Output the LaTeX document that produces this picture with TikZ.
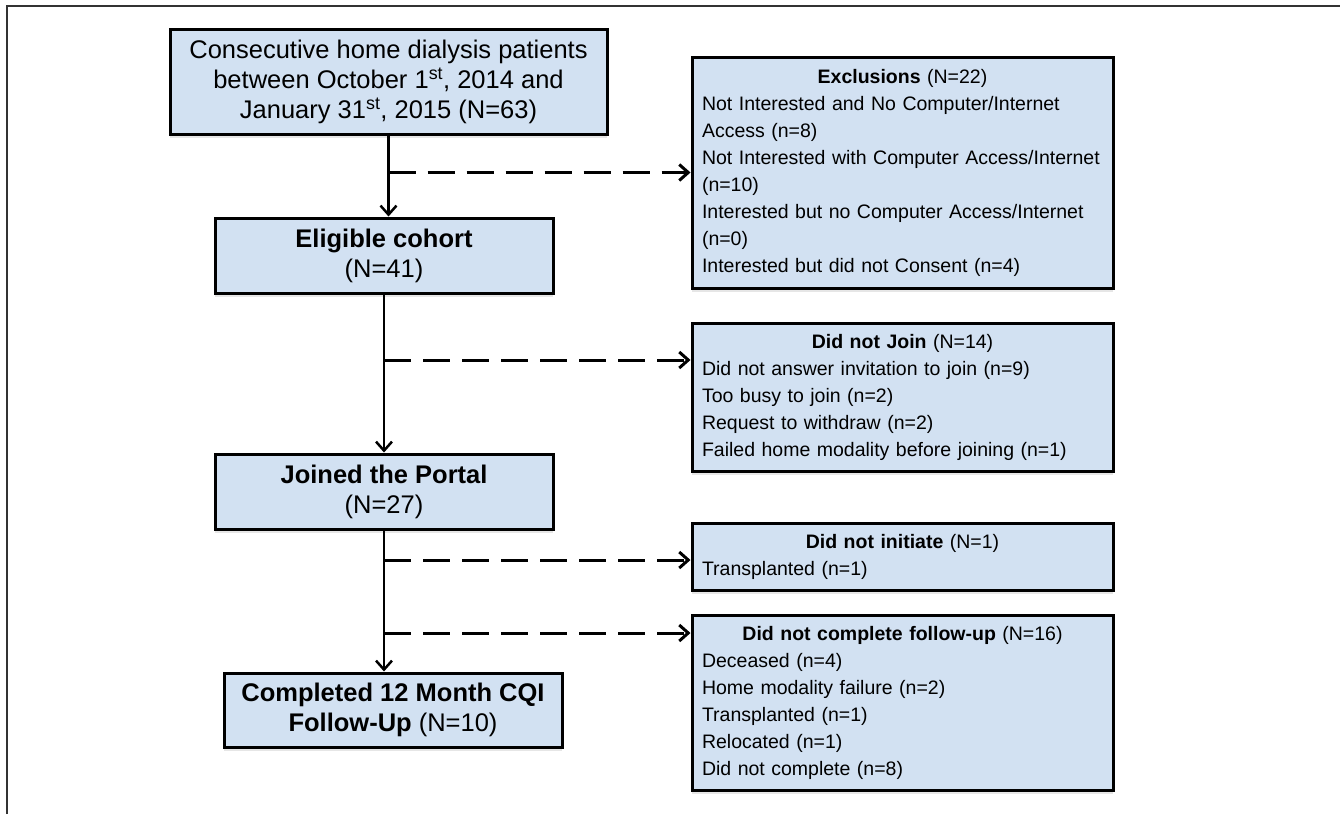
\documentclass[tikz,border=0pt]{standalone}
\usepackage{fontspec}
\setmainfont{Liberation Sans}
\usetikzlibrary{arrows.meta,shadows}
\definecolor{boxblue}{RGB}{210,225,242}
\newcommand\boxhead[2]{\makebox[\hsize]{\textbf{#1} #2}}
\tikzset{
  flowbox/.style={draw, line width=3pt, fill=boxblue, align=center,
    minimum width=338pt, minimum height=75pt, inner sep=0pt,
    font=\fontsize{25.5}{30}\selectfont,
    drop shadow={shadow xshift=0pt, shadow yshift=-4pt, opacity=0.2}},
  sidebox/.style={draw, line width=3pt, fill=boxblue, align=left,
    text width=401pt, inner xsep=10pt, inner ysep=0pt,
    font=\fontsize{19.5}{27}\selectfont,
    drop shadow={shadow xshift=0pt, shadow yshift=-4pt, opacity=0.2}},
  mainline/.style={line width=2.5pt},
  sideline/.style={line width=3pt, dash pattern=on 27pt off 12pt},
}
\begin{document}
\begin{tikzpicture}[x=1pt, y=-1pt, ->, >={Straight Barb[length=9pt,width=16pt]}]
  \useasboundingbox (0,0) rectangle (1340,814);
  \draw[-, line width=2pt, black!80] (7,814) -- (7,6) -- (1340,6);

  \node[flowbox, minimum width=437pt, minimum height=105pt] (P_all) at (388.5,81.5) {Consecutive home dialysis patients\\between October 1\textsuperscript{st}, 2014 and\\January 31\textsuperscript{st}, 2015 (N=63)};
  \node[flowbox] (P_elig) at (384,255.5) {\textbf{Eligible cohort}\\(N=41)};
  \node[flowbox] (P_join) at (384,491.5) {\textbf{Joined the Portal}\\(N=27)};
  \node[flowbox, minimum height=74pt] (P_done) at (393,710) {\textbf{Completed 12 Month CQI}\\\textbf{Follow-Up} (N=10)};

  \node[sidebox, minimum height=231pt] (X_excl) at (902.5,172.5) {\boxhead{Exclusions}{(N=22)}\\Not Interested and No Computer/Internet\\Access (n=8)\\Not Interested with Computer Access/Internet\\(n=10)\\Interested but no Computer Access/Internet\\(n=0)\\Interested but did not Consent (n=4)};
  \node[sidebox, minimum height=148pt] (X_nojoin) at (902.5,397) {\boxhead{Did not Join}{(N=14)}\\Did not answer invitation to join (n=9)\\Too busy to join (n=2)\\Request to withdraw (n=2)\\Failed home modality before joining (n=1)};
  \node[sidebox, minimum height=67pt] (X_noinit) at (902.5,556.5) {\boxhead{Did not initiate}{(N=1)}\\Transplanted (n=1)};
  \node[sidebox, minimum height=175pt] (X_nofu) at (902.5,702.5) {\boxhead{Did not complete follow-up}{(N=16)}\\Deceased (n=4)\\Home modality failure (n=2)\\Transplanted (n=1)\\Relocated (n=1)\\Did not complete (n=8)};

  \coordinate (b_excl) at (P_all.south |- X_excl.west);
  \coordinate (b_nojoin) at (384,360);
  \coordinate (b_noinit) at (384,560);
  \coordinate (b_nofu) at (384,633);

  \draw[mainline] (P_all.south) -- (P_all.south |- P_elig.north);
  \draw[mainline] (P_elig.south) -- (P_join.north);
  \draw[mainline] (P_join.south) -- (P_join.south |- P_done.north);
  \draw[sideline] (b_excl) -- (X_excl.west);
  \draw[sideline] (b_nojoin) -- (b_nojoin -| X_nojoin.west);
  \draw[sideline] (b_noinit) -- (b_noinit -| X_noinit.west);
  \draw[sideline] (b_nofu) -- (b_nofu -| X_nofu.west);
\end{tikzpicture}
\end{document}
